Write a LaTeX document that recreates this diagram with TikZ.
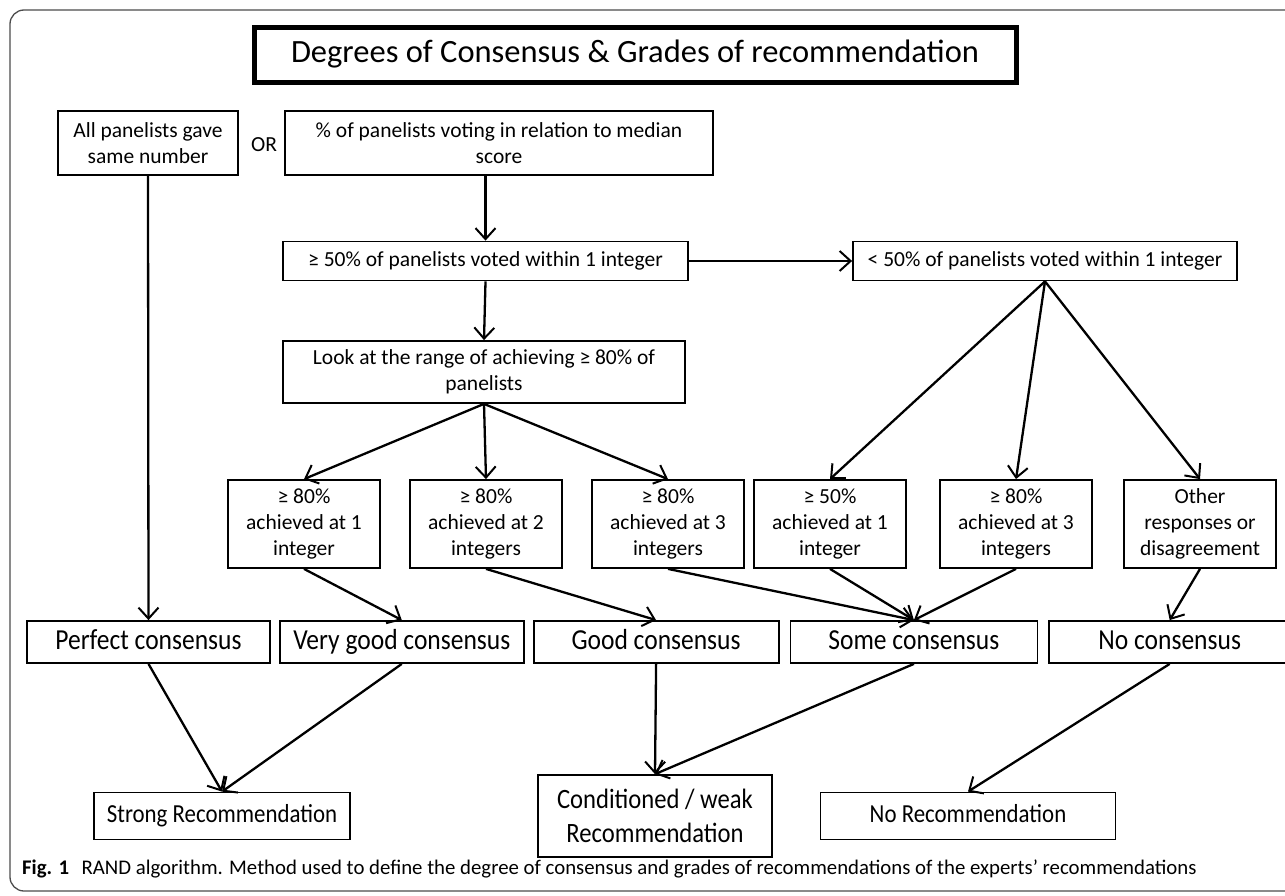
\documentclass[tikz,border=0pt]{standalone}
\usepackage{fontspec}
\setmainfont{Carlito}
\newfontfamily\narrowfont{Carlito}[FakeStretch=0.88]
\usetikzlibrary{arrows.meta,positioning}

\begin{document}
\begin{tikzpicture}[
    x=1pt, y=-1pt,
    box/.style={rectangle, draw, line width=1.8pt, inner sep=0pt, align=center, font=\fontsize{21.5}{26}\selectfont},
    single/.style={box, text height=15pt, text depth=5pt},
    choice/.style={box, minimum width=152pt, minimum height=88pt},
    grade/.style={box, minimum height=42pt, text height=20pt, text depth=6pt, font=\narrowfont\fontsize{29}{33}\selectfont},
    verdict/.style={box, minimum height=47pt, font=\narrowfont\fontsize{26}{31}\selectfont},
    arrow/.style={line width=2.3pt, -{Straight Barb[length=11pt,width=20pt,line width=2pt]}}
  ]
    \useasboundingbox (0,0) rectangle (1285,896);
    % Frame
    \draw[line width=1.3pt, black!70, rounded corners=14pt] (10,10) rectangle (1300,891);

    % Nodes
    \node[box, line width=5pt, minimum width=762pt, minimum height=55pt, text height=23pt, text depth=7pt, font=\fontsize{32.5}{38}\selectfont] (title) at (635,55) {Degrees of Consensus \& Grades of recommendation};
    \node[box, minimum width=180pt, minimum height=64pt] (same) at (148,143) {All panelists gave\\same number};
    \node[font=\fontsize{21.5}{26}\selectfont] (or) at (264,145) {OR};
    \node[box, minimum width=428pt, minimum height=64pt] (pct) at (499,143) {\% of panelists voting in relation to median\\score};
    \node[single, minimum width=405pt, minimum height=39pt] (ge50) at (485.5,261) {≥ 50\% of panelists voted within 1 integer};
    \node[single, minimum width=384pt, minimum height=39pt] (lt50) at (1045,261) {< 50\% of panelists voted within 1 integer};
    \node[box, minimum width=402pt, minimum height=62pt] (look) at (484,372) {Look at the range of achieving ≥ 80\% of\\panelists};

    \node[choice] (oneint) at (304,524) {≥ 80\%\\achieved at 1\\integer};
    \node[choice] (twoint) at (486,524) {≥ 80\%\\achieved at 2\\integers};
    \node[choice] (threeint) at (668,524) {≥ 80\%\\achieved at 3\\integers};
    \node[choice] (halfone) at (830,524) {≥ 50\%\\achieved at 1\\integer};
    \node[choice] (halfthree) at (1016,524) {≥ 80\%\\achieved at 3\\integers};
    \node[choice] (other) at (1200,524) {Other\\responses or\\disagreement};

    \node[grade, minimum width=243pt] (perfect) at (148.5,642) {Perfect consensus};
    \node[grade, minimum width=244pt, right=8pt of perfect] (verygood) {Very good consensus};
    \node[grade, minimum width=245pt, right=8pt of verygood] (good) {Good consensus};
    \node[grade, minimum width=247pt, right=10pt of good] (some) {Some consensus};
    \node[grade, minimum width=241pt, right=10pt of some] (nocons) {No consensus};

    \node[verdict, minimum width=256pt, text height=18pt, text depth=6pt] (strong) at (222,816) {Strong Recommendation};
    \node[verdict, minimum width=234pt, minimum height=82pt, font=\narrowfont\fontsize{28}{34}\selectfont] (weak) at (655,816) {Conditioned / weak\\Recommendation};
    \node[verdict, minimum width=295pt, text height=18pt, text depth=6pt] (norec) at (968,816) {No Recommendation};

    % Arrows
    \draw[arrow] (ge50.north |- pct.south) -- (ge50.north);
    \draw[arrow] (ge50) -- (lt50);
    \draw[arrow] (ge50.south) -- (look.north);
    \foreach \n in {oneint, twoint, threeint}
      \draw[arrow] (look.south) -- (\n.north);
    \foreach \n in {halfone, halfthree, other}
      \draw[arrow] (lt50.south) -- (\n.north);
    \draw[arrow] (same.south) -- (perfect.north);
    \draw[arrow] (oneint.south) -- (verygood.north);
    \draw[arrow] (twoint.south) -- (good.north);
    \foreach \n in {threeint, halfone, halfthree}
      \draw[arrow] (\n.south) -- (some.north);
    \draw[arrow] (other.south) -- (nocons.north);
    \draw[arrow] (perfect.south) -- (strong.north);
    \draw[arrow] (verygood.south) -- (strong.north);
    \draw[arrow] (good.south) -- (weak.north);
    \draw[arrow] (some.south) -- (weak.north);
    \draw[arrow] (nocons.south) -- (norec.north);

    % Caption
    \node[anchor=west, inner sep=0pt, font=\fontsize{20.8}{24}\selectfont] (caption) at (22,869) {\textbf{Fig. 1}\hspace{0.6em}RAND algorithm. Method used to define the degree of consensus and grades of recommendations of the experts’ recommendations};
\end{tikzpicture}
\end{document}
